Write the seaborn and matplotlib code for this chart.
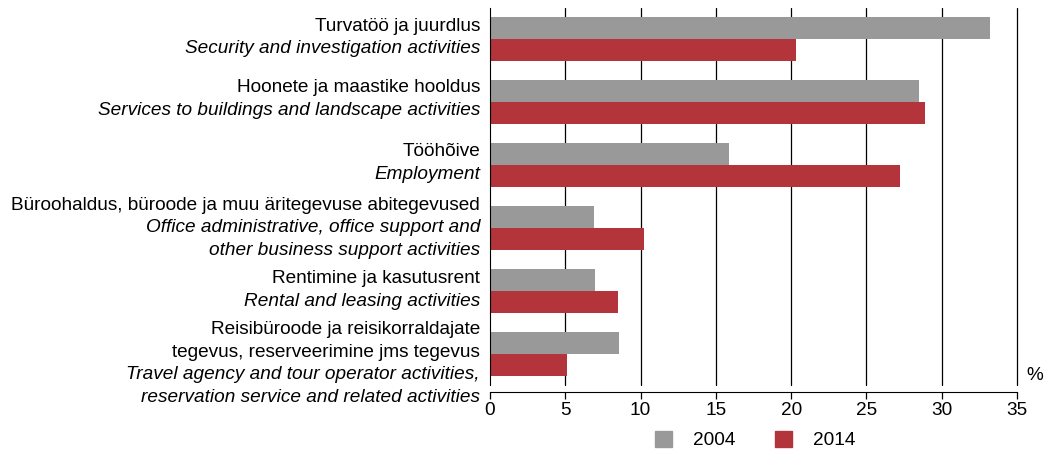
import numpy as np
import pandas as pd
import matplotlib
matplotlib.use('Agg')
import matplotlib.pyplot as plt
import seaborn as sb

# data
labels_et = [['Turvatöö ja juurdlus'],
             ['Hoonete ja maastike hooldus'],
             ['Tööhõive'],
             ['Büroohaldus, büroode ja muu äritegevuse abitegevused'],
             ['Rentimine ja kasutusrent'],
             ['Reisibüroode ja reisikorraldajate', 'tegevus, reserveerimine jms tegevus']]
labels_en = [['Security and investigation activities'],
             ['Services to buildings and landscape activities'],
             ['Employment'],
             ['Office administrative, office support and', 'other business support activities'],
             ['Rental and leasing activities'],
             ['Travel agency and tour operator activities,', 'reservation service and related activities']]
years = ['2004', '2014']
share_2004 = [33.2, 28.5, 15.9, 6.9, 7.0, 8.6]
share_2014 = [20.3, 28.9, 27.2, 10.2, 8.5, 5.1]
xticks = [0, 5, 10, 15, 20, 25, 30, 35]

cats = [' '.join(a) for a in labels_et]
df = pd.DataFrame({'cat': cats * 2,
                   'year': [years[0]] * 6 + [years[1]] * 6,
                   'value': share_2004 + share_2014})

sb.set_style('white')
plt.rcParams['font.family'] = ['Liberation Sans', 'DejaVu Sans']
plt.rcParams['text.color'] = 'black'
plt.rcParams['xtick.color'] = 'black'
fs = 13.7

fig = plt.figure(figsize=(10.48, 4.51), dpi=100)
ax = fig.add_axes([490/1048, 1-385/451, (1017-490)/1048, (385-8)/451])

sb.barplot(data=df, x='value', y='cat', hue='year', orient='h', width=0.7,
           palette={'2004': '#999999', '2014': '#B3343A'}, saturation=1,
           linewidth=0, ax=ax, legend=False, zorder=3)

ax.set_xlim(0, 35)
ax.set_ylim(5.5, -0.5)
ax.set_xticks(xticks)
ax.set_xticklabels([str(t) for t in xticks])
ax.set_yticks([])
ax.set_xlabel('')
ax.set_ylabel('')
ax.grid(False)
for t in xticks[1:]:
    ax.axvline(t, color='black', linewidth=0.9, zorder=1, clip_on=False)
for s in ['top', 'right']:
    ax.spines[s].set_visible(False)
ax.spines['left'].set_color('black')
ax.spines['left'].set_zorder(4)
ax.spines['bottom'].set_color('black')
ax.spines['bottom'].set_position(('outward', 5))
ax.tick_params(axis='x', direction='out', length=5, width=0.9, color='black',
               labelsize=fs, pad=2, bottom=True)

# category labels: Estonian upright, English italic
line_px = 22.7
nudge = [-2, -3, -2, 0, -1, 10]
for i in range(len(cats)):
    lines = [(t, 'normal') for t in labels_et[i]] + [(t, 'italic') for t in labels_en[i]]
    n = len(lines)
    for j, (txt, st) in enumerate(lines):
        off = -((j - (n - 1) / 2) * line_px + nudge[i])
        ax.annotate(txt, xy=(0, i), xycoords=('axes fraction', 'data'),
                    xytext=(-10, off), textcoords='offset pixels',
                    ha='right', va='center', style=st, fontsize=fs,
                    annotation_clip=False)

ax.text(1.018, 5.35, '%', transform=ax.get_yaxis_transform(), ha='left', va='center',
        fontsize=fs)

handles = [plt.Rectangle((0, 0), 1, 1, color=c) for c in ['#999999', '#B3343A']]
fig.legend(handles, years, loc='center', bbox_to_anchor=(755/1048, 1-440/451),
           ncol=2, frameon=False, handlelength=0.9, handleheight=0.9,
           columnspacing=2.1, handletextpad=1.1, fontsize=fs)

fig.savefig('out.png', dpi=100)
